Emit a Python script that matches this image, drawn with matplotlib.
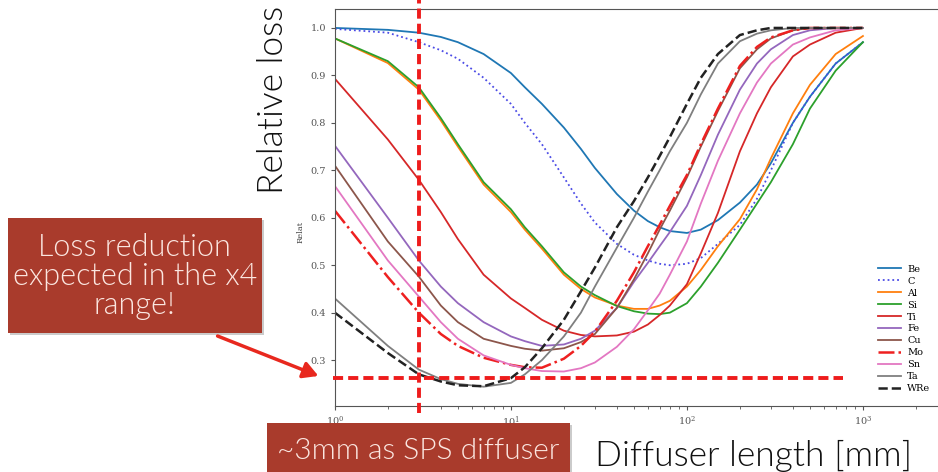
import numpy as np
import matplotlib
matplotlib.use('Agg')
import matplotlib.pyplot as plt
from matplotlib.patches import FancyBboxPatch, FancyArrowPatch

plt.rcParams['mathtext.fontset'] = 'cm'

# diffuser length [mm]
length = [1, 2, 3, 4, 5, 7, 10, 12, 15, 20, 25, 30, 40, 50, 60, 70, 80,
          100, 120, 150, 200, 250, 300, 400, 500, 700, 1000]

# relative loss
be  = [1.0, 0.996, 0.99, 0.981, 0.97, 0.945, 0.905, 0.875, 0.84, 0.79, 0.745, 0.705, 0.65, 0.615,
       0.593, 0.58, 0.572, 0.568, 0.575, 0.595, 0.632, 0.67, 0.715, 0.80, 0.855, 0.925, 0.97]
c   = [0.998, 0.99, 0.97, 0.953, 0.935, 0.895, 0.84, 0.80, 0.755, 0.685, 0.63, 0.59, 0.545, 0.522,
       0.51, 0.503, 0.50, 0.503, 0.515, 0.545, 0.585, 0.64, 0.70, 0.80, 0.855, 0.925, 0.97]
al  = [0.978, 0.926, 0.87, 0.805, 0.75, 0.67, 0.612, 0.575, 0.535, 0.48, 0.45, 0.432, 0.415, 0.408,
       0.408, 0.415, 0.425, 0.455, 0.49, 0.54, 0.597, 0.66, 0.725, 0.82, 0.88, 0.945, 0.983]
si  = [0.978, 0.93, 0.875, 0.81, 0.755, 0.675, 0.618, 0.58, 0.54, 0.485, 0.455, 0.437, 0.414, 0.403,
       0.398, 0.397, 0.40, 0.42, 0.455, 0.505, 0.575, 0.63, 0.675, 0.755, 0.83, 0.91, 0.97]
ti  = [0.893, 0.765, 0.68, 0.612, 0.555, 0.48, 0.43, 0.41, 0.385, 0.362, 0.353, 0.35, 0.352, 0.36,
       0.375, 0.395, 0.415, 0.46, 0.525, 0.61, 0.74, 0.82, 0.875, 0.94, 0.965, 0.99, 1.0]
fe  = [0.752, 0.60, 0.51, 0.455, 0.42, 0.38, 0.35, 0.34, 0.33, 0.333, 0.345, 0.362, 0.41, 0.465,
       0.505, 0.54, 0.57, 0.625, 0.69, 0.775, 0.87, 0.925, 0.955, 0.985, 0.995, 1.0, 1.0]
cu  = [0.71, 0.55, 0.476, 0.415, 0.38, 0.345, 0.33, 0.324, 0.32, 0.325, 0.338, 0.355, 0.41, 0.47,
       0.525, 0.575, 0.615, 0.685, 0.75, 0.825, 0.915, 0.955, 0.978, 0.995, 1.0, 1.0, 1.0]
mo  = [0.615, 0.475, 0.40, 0.355, 0.33, 0.305, 0.29, 0.285, 0.284, 0.303, 0.33, 0.36, 0.425, 0.485,
       0.54, 0.585, 0.625, 0.69, 0.755, 0.83, 0.92, 0.96, 0.98, 0.995, 1.0, 1.0, 1.0]
sn  = [0.667, 0.51, 0.434, 0.38, 0.345, 0.31, 0.29, 0.283, 0.277, 0.276, 0.283, 0.295, 0.328, 0.365,
       0.405, 0.44, 0.48, 0.55, 0.63, 0.72, 0.82, 0.885, 0.925, 0.965, 0.98, 0.995, 1.0]
ta  = [0.43, 0.33, 0.28, 0.26, 0.25, 0.244, 0.252, 0.27, 0.30, 0.35, 0.40, 0.455, 0.537, 0.60,
       0.655, 0.70, 0.74, 0.80, 0.86, 0.925, 0.972, 0.988, 0.995, 1.0, 1.0, 1.0, 1.0]
wre = [0.40, 0.315, 0.27, 0.255, 0.247, 0.245, 0.262, 0.285, 0.325, 0.385, 0.445, 0.495, 0.58, 0.635,
       0.685, 0.73, 0.77, 0.84, 0.895, 0.945, 0.985, 0.995, 1.0, 1.0, 1.0, 1.0, 1.0]

materials = ['Be', 'C', 'Al', 'Si', 'Ti', 'Fe', 'Cu', 'Mo', 'Sn', 'Ta', 'WRe']
series = [be, c, al, si, ti, fe, cu, mo, sn, ta, wre]
colors = ['#1f77b4', '#4b4be6', '#ff7f0e', '#2ca02c', '#d62728', '#9467bd',
          '#8c564b', '#ee2020', '#e377c2', '#7f7f7f', '#222222']
styles = ['-', ':', '-', '-', '-', '-', '-', '-.', '-', '-', '--']

sps_length = 3
target_loss = 0.263

fig = plt.figure(figsize=(9.38, 4.72), dpi=100)
ax = fig.add_axes([0.357, 0.1405, 0.6525, 0.8395])

for name, vals, col, ls in zip(materials, series, colors, styles):
    lw = 1.8 if name in ('Mo', 'WRe') else 1.3
    ax.plot(length, vals, ls, color=col, lw=lw, label=name)

ax.set_xscale('log')
ax.set_xlim(1, 3000)
ax.set_ylim(0.204, 1.039)
ax.set_yticks([0.3, 0.4, 0.5, 0.6, 0.7, 0.8, 0.9, 1.0])
for sp in ax.spines.values():
    sp.set_color('#555555')
ax.tick_params(labelsize=7, colors='#555555', length=3)
ax.tick_params(which='minor', length=2, colors='#555555')
for lab in ax.get_yticklabels() + ax.get_xticklabels():
    lab.set_family('DejaVu Serif')

ax.legend(loc='center left', bbox_to_anchor=(0.936, 0.303), bbox_transform=fig.transFigure,
          frameon=False, handlelength=2.4, handletextpad=0.6,
          labelspacing=0.3, borderpad=0, borderaxespad=0,
          prop={'family': 'DejaVu Serif', 'size': 7})

# red guide lines from the slide
red = '#ee1c1c'
ax.plot([sps_length, sps_length], [-0.018, 1.03], color=red, lw=2.8, dashes=(2.6, 1.3),
        transform=ax.get_xaxis_transform(), clip_on=False, zorder=5)
ax.plot([0.97, 770], [target_loss, target_loss], color=red, lw=2.8, dashes=(2.6, 1.3),
        clip_on=False, zorder=5)

# slide annotations
box_col = '#a93b2c'
txt_col = '#fbe6e0'
font = 'Lato'
for x0, y0, w, h in [(0.0085, 0.2945, 0.2705, 0.2435), (0.2846, -0.01, 0.3231, 0.1138)]:
    fig.patches.append(FancyBboxPatch((x0 + 0.002, y0 - 0.004), w, h, boxstyle='square,pad=0',
                                      transform=fig.transFigure, fc='#999999', ec='none',
                                      alpha=0.5, zorder=8))
    fig.patches.append(FancyBboxPatch((x0, y0), w, h, boxstyle='square,pad=0',
                                      transform=fig.transFigure, fc=box_col, ec='none', zorder=9))

fig.text(0.1437, 0.415, 'Loss reduction\nexpected in the x4\nrange!', ha='center', va='center',
         color=txt_col, fontsize=22, family=font, weight=300, linespacing=1.0, zorder=10)
fig.text(0.4462, 0.045, '~3mm as SPS diffuser', ha='center', va='center',
         color=txt_col, fontsize=21.5, family=font, weight=300, zorder=10)

fig.patches.append(FancyArrowPatch((215 / 938, 1 - 335 / 472), (321 / 938, 1 - 377 / 472),
                                   transform=fig.transFigure, arrowstyle='-|>,head_length=9,head_width=5',
                                   color='#e8281e', lw=2.5, zorder=10))

fig.text(0.291, 0.788, 'Relative loss', rotation=90, ha='center', va='center',
         fontsize=25.5, family=font, weight=300, color='#111111')
fig.text(0.32, 0.508, 'Relat', rotation=90, ha='center', va='center',
         fontsize=6, family='DejaVu Serif', color='#444444')
fig.text(0.803, 0.034, 'Diffuser length [mm]', ha='center', va='center',
         fontsize=25.5, family=font, weight=300, color='#111111')

fig.savefig('out.png', dpi=100)
